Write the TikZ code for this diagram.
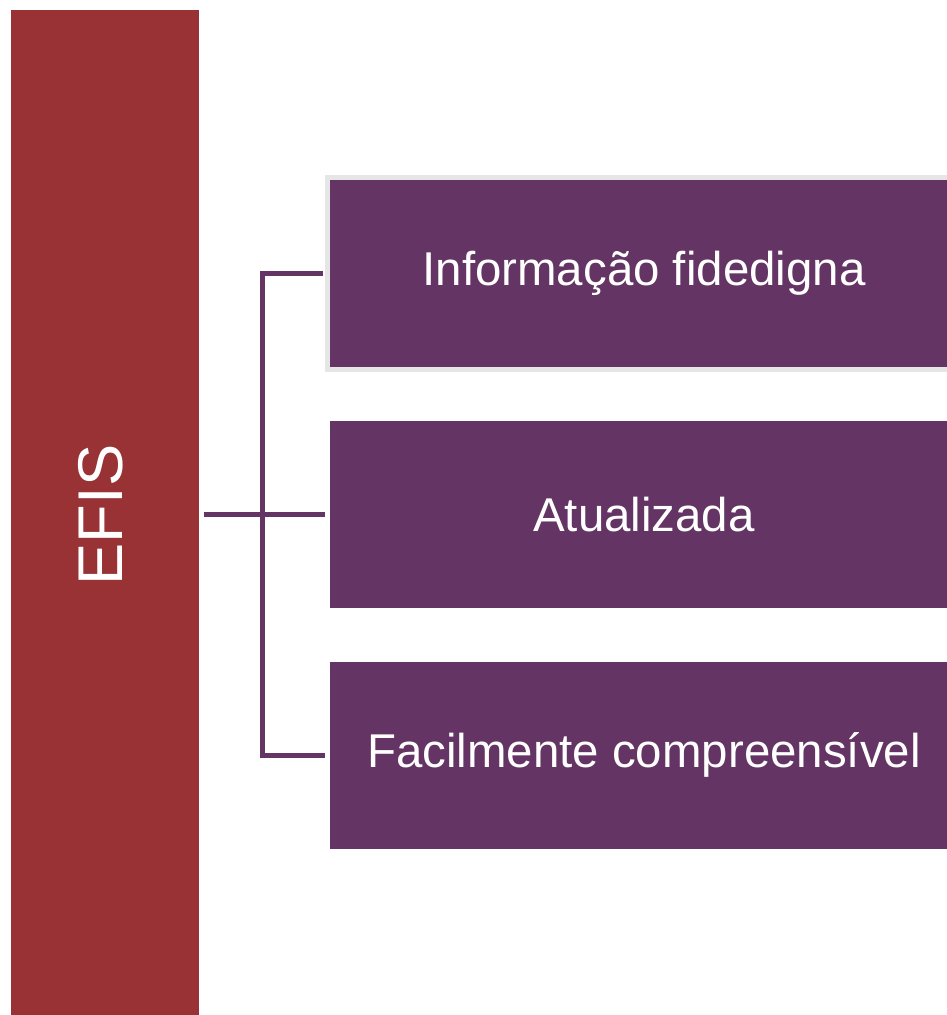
\documentclass[tikz,border=0pt]{standalone}
\usepackage{xcolor}
\usepackage{fontspec}
\setmainfont{Liberation Sans}
\usepackage{tikz}
\usetikzlibrary{shapes,arrows}
\definecolor{efisred}{HTML}{983234}
\definecolor{itempurple}{HTML}{643464}
\definecolor{edgegray}{HTML}{E6E6E6}
\tikzstyle{bar} = [rectangle, fill=efisred, minimum width=3.76cm, minimum height=20.1cm, inner sep=0pt]
\tikzstyle{item} = [rectangle, fill=itempurple, text=white, minimum width=12.56cm,
    minimum height=3.74cm, inner sep=0pt, font=\fontsize{27}{32}\selectfont]
\tikzstyle{line} = [draw=itempurple, line width=0.1cm]

\begin{document}
\begin{tikzpicture}[x=0.02cm, y=-0.02cm, node distance = 4.82cm]
    \useasboundingbox (0,0) rectangle (947,1015);
    % Place nodes
    \node [bar] (efis) at (105,512.5) {};
    \node [rotate=90, text=white, font=\fontsize{36}{43}\selectfont] (efislabel) at (101,515) {EFIS};
    \node [item, draw=edgegray, line width=0.1cm, minimum width=12.66cm, minimum height=3.84cm] (info) at (644,273.5) {Informação fidedigna};
    \node [item, below of=info] (atual) {Atualizada};
    \node [item, below of=atual] (facil) {Facilmente compreensível};

    % Draw edges
    \path [line] ([xshift=-0.05cm]info.west) -| ([xshift=-1.26cm]info.west) |- ([xshift=-0.1cm]facil.west);
    \path [line] ([xshift=0.1cm]efis.east |- atual.west) -- ([xshift=-0.1cm]atual.west);
\end{tikzpicture}
\end{document}
